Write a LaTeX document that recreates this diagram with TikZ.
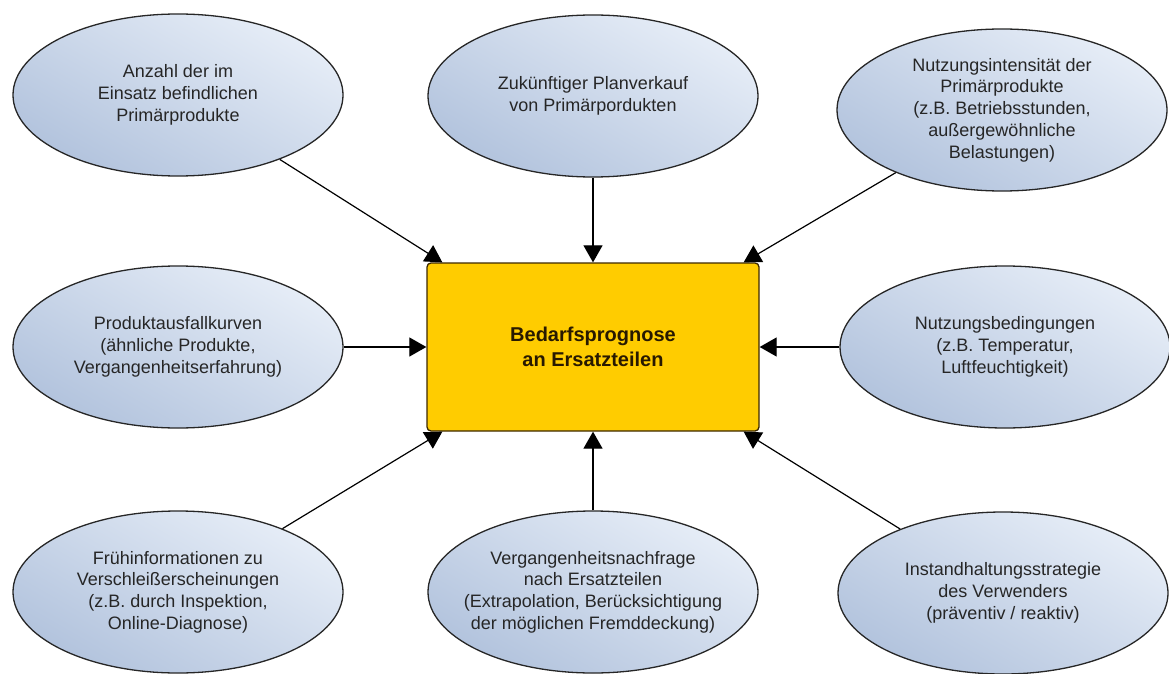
\documentclass[tikz,border=0pt]{standalone}
\usepackage{fontspec}
\setmainfont{Liberation Sans}
\usepackage{xcolor}
\usetikzlibrary{arrows.meta,shapes.geometric}
\definecolor{ellLight}{RGB}{230,237,247}
\definecolor{ellDark}{RGB}{178,195,221}
\definecolor{boxFill}{RGB}{255,204,0}
\definecolor{boxLine}{RGB}{60,40,0}
\definecolor{boxText}{RGB}{40,25,0}
\tikzset{
	factor/.style={
			ellipse, draw=black!85, line width=1.3pt,
			top color=ellLight, bottom color=ellDark, shading angle=-30,
			minimum width=330pt, minimum height=162pt,
			inner xsep=-20pt, inner ysep=0pt, align=center,
			font=\fontsize{18}{21.7}\selectfont, text=black!85
		},
	forecast/.style={
			rectangle, rounded corners=4pt, draw=boxLine, line width=1.3pt,
			fill=boxFill, minimum width=332pt, minimum height=168pt,
			align=center, text=boxText,
			font=\fontsize{20}{25}\selectfont\bfseries
		}
}
\tikzset{>={Triangle[width=19pt,length=17pt]}}

\begin{document}
\begin{tikzpicture}[x=1pt,y=-1pt,line width=1.2pt]
		\useasboundingbox (0,0) rectangle (1169,674);

		\node[forecast] (prognose) at (593,347) {Bedarfsprognose\\an Ersatzteilen};

		% oben
		\node[factor] (anzahl) at (178,95) {Anzahl der im\\Einsatz befindlichen\\Primärprodukte};
		\node[factor] (planverkauf) at (593,96) {Zukünftiger Planverkauf\\von Primärpordukten};
		\node[factor] (intensitaet) at (1002,110) {Nutzungsintensität der\\Primärprodukte\\(z.B. Betriebsstunden,\\außergewöhnliche\\Belastungen)};

		% mitte
		\node[factor] (ausfall) at (178,347) {Produktausfallkurven\\(ähnliche Produkte,\\Vergangenheitserfahrung)};
		\node[factor] (bedingungen) at (1005,347) {Nutzungsbedingungen\\(z.B. Temperatur,\\Luftfeuchtigkeit)};

		% unten
		\node[factor] (fruehinfo) at (178,592) {Frühinformationen zu\\Verschleißerscheinungen\\(z.B. durch Inspektion,\\Online-Diagnose)};
		\node[factor] (nachfrage) at (593,592) {Vergangenheitsnachfrage\\nach Ersatzteilen\\(Extrapolation, Berücksichtigung\\der möglichen Fremddeckung)};
		\node[factor] (strategie) at (1003,593) {Instandhaltungsstrategie\\des Verwenders\\(präventiv / reaktiv)};

		\draw[->] (anzahl) -- ([xshift=16pt]prognose.north west);
		\draw[->] (planverkauf) -- (prognose.north);
		\draw[->] (intensitaet) -- ([xshift=-16pt]prognose.north east);
		\draw[->] (ausfall) -- (prognose.west);
		\draw[->] (bedingungen) -- (prognose.east);
		\draw[->] (fruehinfo) -- ([xshift=16pt]prognose.south west);
		\draw[->] (nachfrage) -- (prognose.south);
		\draw[->] (strategie) -- ([xshift=-16pt]prognose.south east);

	\end{tikzpicture}
\end{document}
